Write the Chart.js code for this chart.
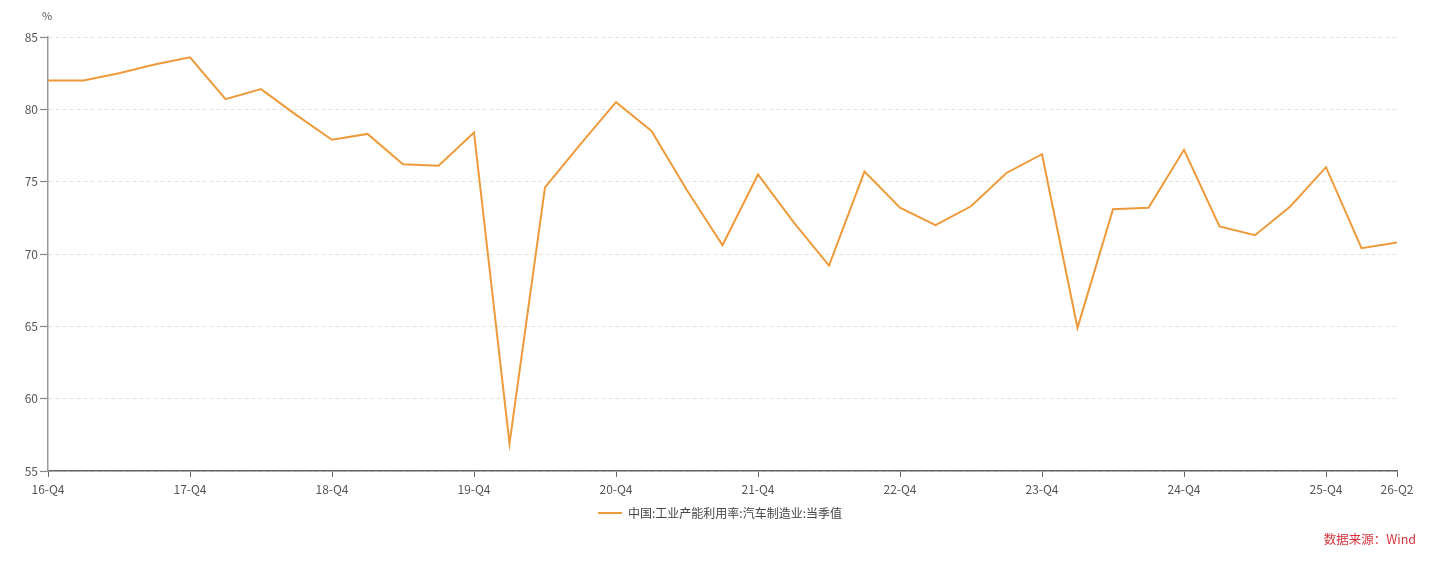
<!DOCTYPE html>
<html>
<head>
<meta charset="utf-8">
<script src="https://cdn.jsdelivr.net/npm/chart.js@4/dist/chart.umd.min.js"></script>
<style>
  html, body { margin: 0; padding: 0; background: #fff; }
  #wrap { width: 1440px; height: 564px; position: relative; }
</style>
</head>
<body>
<div id="wrap"><canvas id="c"></canvas></div>
<script>
// quarters, 16-Q4 .. 26-Q2
const quarters = [
    '16-Q4',
    '17-Q1', '17-Q2', '17-Q3', '17-Q4',
    '18-Q1', '18-Q2', '18-Q3', '18-Q4',
    '19-Q1', '19-Q2', '19-Q3', '19-Q4',
    '20-Q1', '20-Q2', '20-Q3', '20-Q4',
    '21-Q1', '21-Q2', '21-Q3', '21-Q4',
    '22-Q1', '22-Q2', '22-Q3', '22-Q4',
    '23-Q1', '23-Q2', '23-Q3', '23-Q4',
    '24-Q1', '24-Q2', '24-Q3', '24-Q4',
    '25-Q1', '25-Q2', '25-Q3', '25-Q4',
    '26-Q1', '26-Q2'
];

const autoUtilization = [
    82.0,
    82.0, 82.5, 83.1, 83.6,
    80.7, 81.4, 79.6, 77.9,
    78.3, 76.2, 76.1, 78.4,
    56.9, 74.6, 77.6, 80.5,
    78.5, 74.4, 70.6, 75.5,
    72.2, 69.2, 75.7, 73.2,
    72.0, 73.3, 75.6, 76.9,
    64.9, 73.1, 73.2, 77.2,
    71.9, 71.3, 73.3, 76.0,
    70.4, 70.8
];

const shownTicks = ['16-Q4', '17-Q4', '18-Q4', '19-Q4', '20-Q4', '21-Q4', '22-Q4', '23-Q4', '24-Q4', '25-Q4', '26-Q2'];

const seriesName = '中国:工业产能利用率:汽车制造业:当季值';
const FONT = '"Noto Sans CJK SC", "Noto Sans", sans-serif';

// extra texts: unit label and source; legend centred on the page, not the plot
const extras = {
    id: 'extras',
    afterLayout(chart) {
        const shift = (chart.width - (chart.legend.left + chart.legend.right)) / 2;
        chart.legend.left += shift;
        chart.legend.right += shift;
    },
    afterDraw(chart) {
        const ctx = chart.ctx;
        ctx.save();
        ctx.font = '11px ' + FONT;
        ctx.fillStyle = '#555';
        ctx.textAlign = 'center';
        ctx.textBaseline = 'middle';
        ctx.fillText('%', 47, 16);
        ctx.font = '12.5px ' + FONT;
        ctx.fillStyle = '#d8333c';
        ctx.textAlign = 'right';
        ctx.fillText('数据来源：Wind', 1416, 539);
        ctx.restore();
    }
};

new Chart(document.getElementById('c'), {
    type: 'line',
    data: {
        labels: quarters,
        datasets: [{
            label: seriesName,
            data: autoUtilization,
            borderColor: '#ee9a3a',
            backgroundColor: '#ee9a3a',
            borderWidth: 2,
            pointRadius: 0,
            pointHoverRadius: 0,
            tension: 0
        }]
    },
    options: {
        responsive: true,
        maintainAspectRatio: false,
        animation: false,
        layout: { padding: { top: 37, right: 43, bottom: 35, left: 0 } },
        plugins: {
            tooltip: { enabled: false },
            legend: {
                position: 'bottom',
                labels: {
                    usePointStyle: true,
                    pointStyle: 'line',
                    pointStyleWidth: 24,
                    boxHeight: 12,
                    padding: 6,
                    color: '#444',
                    font: { family: FONT, size: 12 }
                }
            }
        },
        scales: {
            x: {
                offset: false,
                grid: {
                    display: true,
                    drawOnChartArea: false,
                    drawTicks: true,
                    tickLength: 6,
                    color: '#666'
                },
                border: { display: true, color: '#666', width: 1.5 },
                ticks: {
                    autoSkip: false,
                    maxRotation: 0,
                    padding: 5,
                    color: '#555',
                    font: { family: FONT, size: 12 },
                    callback: function (value) {
                        const lab = this.getLabelForValue(value);
                        return shownTicks.includes(lab) ? lab : null;
                    }
                },
                afterFit: (scale) => { scale.height = 30; }
            },
            y: {
                min: 55,
                max: 85,
                grid: {
                    color: '#e2e2e2',
                    drawTicks: true,
                    tickLength: 8,
                    tickColor: '#888',
                    tickWidth: 1.2,
                    tickBorderDash: []
                },
                border: { display: true, color: '#999', width: 1.5, dash: [4, 3] },
                ticks: {
                    stepSize: 5,
                    padding: 2,
                    color: '#555',
                    font: { family: FONT, size: 12 }
                },
                afterFit: (scale) => { scale.width = 48; }
            }
        }
    },
    plugins: [extras]
});
</script>
</body>
</html>
